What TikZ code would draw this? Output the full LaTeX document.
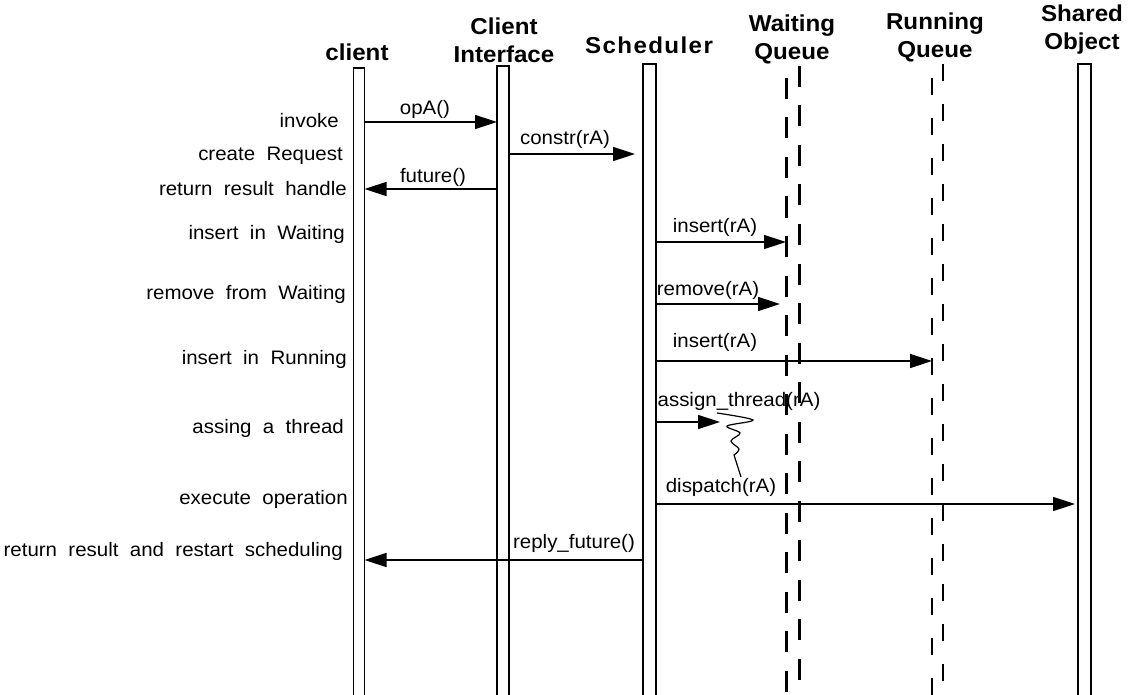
\documentclass[tikz,border=0pt]{standalone}
\usepackage{fontspec}
\setmainfont{Liberation Sans}[FakeStretch=1.05,WordSpace=2.0]
\usetikzlibrary{arrows.meta}
\tikzset{
  lifebar/.style={draw,line width=1.3pt,minimum height=700pt,anchor=north,
    inner sep=0pt,outer sep=0pt},
  head/.style={font=\bfseries\fontsize{23}{28}\selectfont,align=center,inner sep=0pt},
  act/.style={font=\fontsize{19.5}{20}\selectfont,anchor=east,inner sep=0pt},
  call/.style={font=\fontsize{19.5}{20}\selectfont,inner sep=0pt},
  msg/.style={-{Triangle[length=22pt,width=14pt]},line width=1.5pt},
  waitline/.style={line width=3pt,dash pattern=on 21pt off 18.5pt},
  runline/.style={line width=2pt,dash pattern=on 17pt off 23pt}
}

\begin{document}
\begin{tikzpicture}[x=1pt,y=-1pt]
  \useasboundingbox (0,0) rectangle (1129,695);
  \clip (0,0) rectangle (1129,695);

  % lifeline headers
  \node[head] (clientT) at (357,52) {client};
  \node[head] (ifaceT) at (504,40) {Client\\Interface};
  \node[head] (schedT) at (649,45) {\addfontfeature{LetterSpace=6}Scheduler};
  \node[head] (waitT) at (792,39) {Waiting\\Queue};
  \node[head] (runT) at (935,37) {Running\\Queue};
  \node[head] (sharedT) at (1082,30) {Shared\\Object};

  % lifelines
  \node[lifebar,minimum width=11pt] (client) at (359,68) {};
  \node[lifebar,minimum width=12pt] (iface) at (503,66) {};
  \node[lifebar,minimum width=13pt] (sched) at (649.5,64) {};
  \node[lifebar,minimum width=13pt] (shared) at (1084.5,64) {};
  \coordinate (waitL) at (786,78);
  \coordinate (waitR) at (799,66);
  \coordinate (runL) at (932,78);
  \coordinate (runR) at (943,64);
  \draw[waitline] (waitL) -- (waitL |- 0,700);
  \draw[waitline] (waitR) -- (waitR |- 0,700);
  \draw[runline] (runL) -- (runL |- 0,700);
  \draw[runline] (runR) -- (runR |- 0,700);

  % message rows
  \coordinate (r1) at (0,122);
  \coordinate (r2) at (0,154);
  \coordinate (r3) at (0,189);
  \coordinate (r4) at (0,242);
  \coordinate (r5) at (0,304);
  \coordinate (r6) at (0,361);
  \coordinate (r7) at (0,422);
  \coordinate (r8) at (0,504);
  \coordinate (r9) at (0,560);
  \coordinate (thr) at (720,422);

  % what the client side sees
  \node[act] (invoke) at (339,121) {invoke};
  \node[act] (create) at (343,156) {create Request};
  \node[act] (handle) at (347,189) {return result handle};
  \node[act] (insW) at (345,234) {insert in Waiting};
  \node[act] (remW) at (346,294) {remove from Waiting};
  \node[act] (insR) at (347,359) {insert in Running};
  \node[act] (assign) at (344,428) {assing a thread};
  \node[act] (exec) at (348,499) {execute\ operation};
  \node[act] (restart) at (343,551) {return result and restart scheduling};

  % calls
  \draw[msg] (client.east |- r1) -- (iface.west |- r1);
  \node[call] (opA) at (425,109) {opA()};
  \draw[msg,shorten >=8pt] (iface.east |- r2) -- (sched.west |- r2);
  \node[call] (constr) at (565,139) {constr(rA)};
  \draw[msg] (iface.west |- r3) -- (client.east |- r3);
  \node[call] (future) at (433,177) {future()};
  \draw[msg] (sched.east |- r4) -- (waitL |- r4);
  \node[call] (ins1) at (715,227) {insert(rA)};
  \draw[msg,shorten >=6pt] (sched.east |- r5) -- (waitL |- r5);
  \node[call] (rem) at (708,290) {remove(rA)};
  \draw[msg] (sched.east |- r6) -- (runL |- r6);
  \node[call] (ins2) at (715,342) {insert(rA)};
  \draw[msg] (sched.east |- r7) -- (thr);
  \node[call] (thread) at (739,401) {assign\_thread(rA)};
  \draw[line width=1.2pt] plot[smooth,tension=0.55] coordinates
    {(717,413) (753,420) (727,426) (740,433) (731,441) (739,449) (734,455)}
    -- (741,477);
  \draw[msg,shorten >=3pt] (sched.east |- r8) -- (shared.west |- r8);
  \node[call] (disp) at (721,487) {dispatch(rA)};
  \draw[msg] (sched.west |- r9) -- (client.east |- r9);
  \node[call] (reply) at (574,543) {reply\_future()};
\end{tikzpicture}
\end{document}
